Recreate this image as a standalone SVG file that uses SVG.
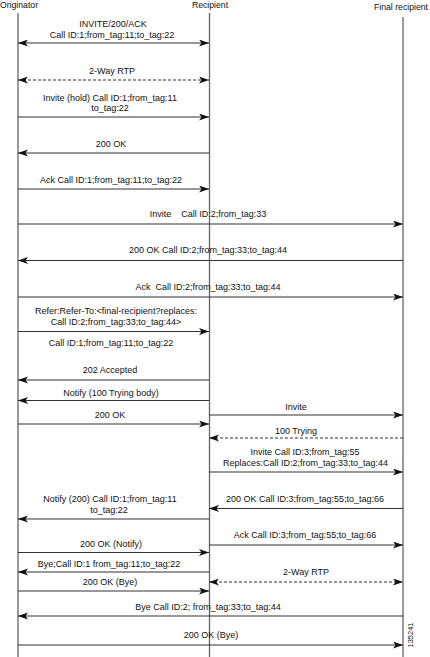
<svg xmlns="http://www.w3.org/2000/svg" width="430" height="657" viewBox="0 0 430 657">
<style>
text{font-family:"Liberation Sans",Arial,sans-serif;font-size:9px;fill:#111;text-anchor:middle;white-space:pre}
.hd{font-size:8.7px}
.life{stroke:#666;stroke-width:1.3;fill:none}
.msg{stroke:#333;stroke-width:1;fill:none;marker-end:url(#ah)}
.bi{marker-start:url(#ahs)}
.dash{stroke-dasharray:3,2}
</style>
<defs>
<marker id="ah" markerUnits="userSpaceOnUse" markerWidth="12" markerHeight="8" refX="10" refY="3.5" orient="auto">
<path d="M0,0 L10,3.5 L0,7 L2.5,3.5 z" fill="#111"/>
</marker>
<marker id="ahs" markerUnits="userSpaceOnUse" markerWidth="12" markerHeight="8" refX="0" refY="3.5" orient="auto">
<path d="M10,0 L0,3.5 L10,7 L7.5,3.5 z" fill="#111"/>
</marker>
</defs>
<g id="originator">
<text class="hd" x="19" y="8">Originator</text>
<line class="life" x1="18" y1="13" x2="18" y2="657"/>
</g>
<g id="recipient">
<text class="hd" x="210" y="8">Recipient</text>
<line class="life" x1="209.5" y1="13" x2="209.5" y2="657"/>
</g>
<g id="final-recipient">
<text class="hd" x="401" y="10">Final recipient</text>
<line class="life" x1="403" y1="17" x2="403" y2="657"/>
</g>
<g id="connectors">
<line class="msg bi" x1="18" y1="43" x2="209" y2="43"/>
<line class="msg bi dash" x1="18" y1="80" x2="209" y2="80"/>
<line class="msg" x1="18" y1="117" x2="209" y2="117"/>
<line class="msg" x1="209" y1="153" x2="18" y2="153"/>
<line class="msg" x1="18" y1="189" x2="209" y2="189"/>
<line class="msg" x1="18" y1="224" x2="403" y2="224"/>
<line class="msg" x1="403" y1="260.5" x2="18" y2="260.5"/>
<line class="msg" x1="18" y1="297" x2="403" y2="297"/>
<line class="msg" x1="18" y1="331.5" x2="209" y2="331.5"/>
<line class="msg" x1="209" y1="380" x2="18" y2="380"/>
<line class="msg" x1="209" y1="400.5" x2="18" y2="400.5"/>
<line class="msg" x1="209" y1="415" x2="403" y2="415"/>
<line class="msg" x1="18" y1="424" x2="209" y2="424"/>
<line class="msg dash" x1="403" y1="438" x2="209" y2="438"/>
<line class="msg" x1="209" y1="472" x2="403" y2="472"/>
<line class="msg" x1="403" y1="508.5" x2="209" y2="508.5"/>
<line class="msg" x1="209" y1="519" x2="18" y2="519"/>
<line class="msg" x1="209" y1="545" x2="403" y2="545"/>
<line class="msg" x1="18" y1="552.5" x2="209" y2="552.5"/>
<line class="msg" x1="209" y1="572" x2="18" y2="572"/>
<line class="msg bi dash" x1="209" y1="582" x2="403" y2="582"/>
<line class="msg" x1="18" y1="591" x2="209" y2="591"/>
<line class="msg" x1="403" y1="616" x2="18" y2="616"/>
<line class="msg" x1="18" y1="645" x2="403" y2="645"/>
</g>
<g id="labels">
<text x="113" y="27">INVITE/200/ACK</text>
<text x="112" y="37.5">Call ID:1;from_tag:11;to_tag:22</text>
<text x="112" y="74">2-Way RTP</text>
<text x="110" y="101">Invite (hold) Call ID:1;from_tag:11</text>
<text x="110" y="111">to_tag:22</text>
<text x="111" y="146.5">200 OK</text>
<text x="111" y="182.5">Ack Call ID:1;from_tag:11;to_tag:22</text>
<text x="208" y="217">Invite    Call ID:2;from_tag:33</text>
<text x="208" y="253">200 OK Call ID:2;from_tag:33;to_tag:44</text>
<text x="208" y="289.5">Ack  Call ID:2;from_tag:33;to_tag:44</text>
<text x="116" y="314">Refer:Refer-To:&lt;final-recipient?replaces:</text>
<text x="116" y="324.5">Call ID:2;from_tag:33;to_tag:44&gt;</text>
<text x="111" y="346">Call ID:1;from_tag:11;to_tag:22</text>
<text x="110" y="373">202 Accepted</text>
<text x="111" y="396">Notify (100 Trying body)</text>
<text x="110" y="418">200 OK</text>
<text x="296" y="410">Invite</text>
<text x="296" y="434">100 Trying</text>
<text x="305" y="455">Invite Call ID:3;from_tag:55</text>
<text x="305.5" y="466">Replaces:Call ID:2;from_tag:33;to_tag:44</text>
<text x="305" y="502">200 OK Call ID:3;from_tag:55;to_tag:66</text>
<text x="110" y="502">Notify (200) Call ID:1;from_tag:11</text>
<text x="109" y="512.5">to_tag:22</text>
<text x="305" y="538">Ack Call ID:3;from_tag:55;to_tag:66</text>
<text x="111" y="547">200 OK (Notify)</text>
<text x="109" y="567">Bye;Call ID:1 from_tag:11;to_tag:22</text>
<text x="306" y="575">2-Way RTP</text>
<text x="110" y="585">200 OK (Bye)</text>
<text x="208" y="610">Bye Call ID:2; from_tag:33;to_tag:44</text>
<text x="211" y="638">200 OK (Bye)</text>
<text x="0" y="0" transform="translate(413,635) rotate(-90)" style="font-size:7.5px">135241</text>
</g>
</svg>
